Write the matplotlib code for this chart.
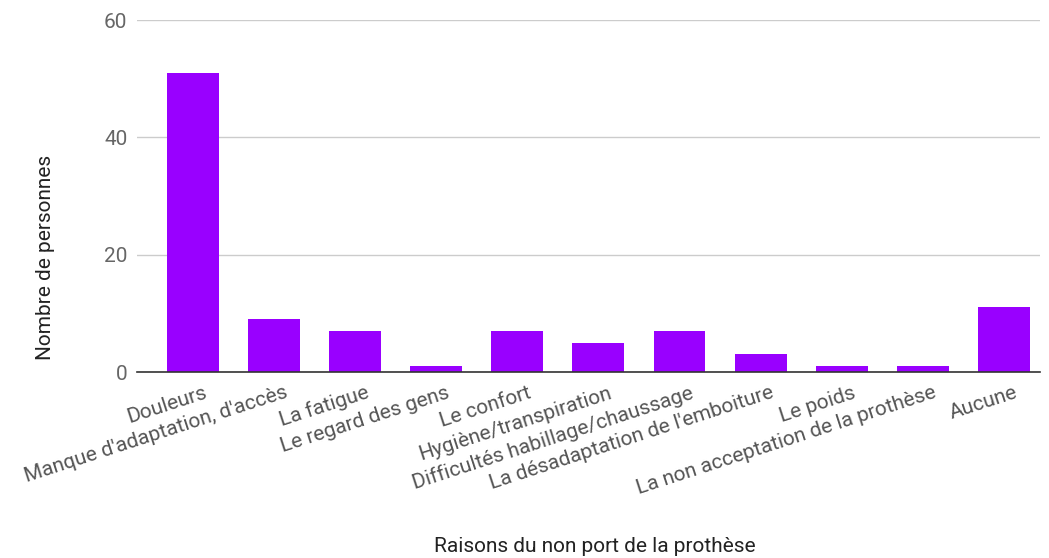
import matplotlib.pyplot as plt
import matplotlib.transforms as mtransforms

plt.rcParams['font.family'] = ['Roboto', 'DejaVu Sans']

raisons = ["Douleurs", "Manque d'adaptation, d'accès", "La fatigue", "Le regard des gens",
           "Le confort", "Hygiène/transpiration", "Difficultés habillage/chaussage",
           "La désadaptation de l'emboiture", "Le poids", "La non acceptation de la prothèse",
           "Aucune"]
nombres = [51, 9, 7, 1, 7, 5, 7, 3, 1, 1, 11]
yticks = [0, 20, 40, 60]

fig = plt.figure(figsize=(10.49, 5.58), dpi=100)
ax = fig.add_axes([0.1306, 0.3333, 0.8604, 0.6308])

x = range(len(raisons))
ax.bar(x, nombres, width=0.64, color='#9900ff', zorder=3)
ax.set_xlim(-0.69, 10.44)
ax.set_ylim(0, 60)
ax.set_yticks(yticks)
ax.tick_params(axis='y', length=0, labelsize=15, labelcolor='#666666', pad=7)
ax.tick_params(axis='x', length=0, labelsize=15, labelcolor='#555555', pad=8)
ax.yaxis.grid(True, color='#cccccc', linewidth=1, zorder=0)
for s in ['top', 'right', 'left']:
    ax.spines[s].set_visible(False)
ax.spines['bottom'].set_color('#333333')
ax.spines['bottom'].set_linewidth(1.2)
ax.spines['bottom'].set_zorder(4)

ax.set_xticks(list(x))
ax.set_xticklabels(raisons, rotation=18, ha='right', rotation_mode='anchor')
offset = mtransforms.ScaledTranslation(0.1, 0, fig.dpi_scale_trans)
for lbl in ax.get_xticklabels():
    lbl.set_transform(lbl.get_transform() + offset)

fig.text(0.043, 0.539, 'Nombre de personnes', fontsize=15, color='#222222',
         rotation=90, ha='center', va='center')
fig.text(0.567, 0.003, 'Raisons du non port de la prothèse', fontsize=15,
         color='#222222', ha='center', va='bottom')

fig.savefig('out.png', dpi=100)
